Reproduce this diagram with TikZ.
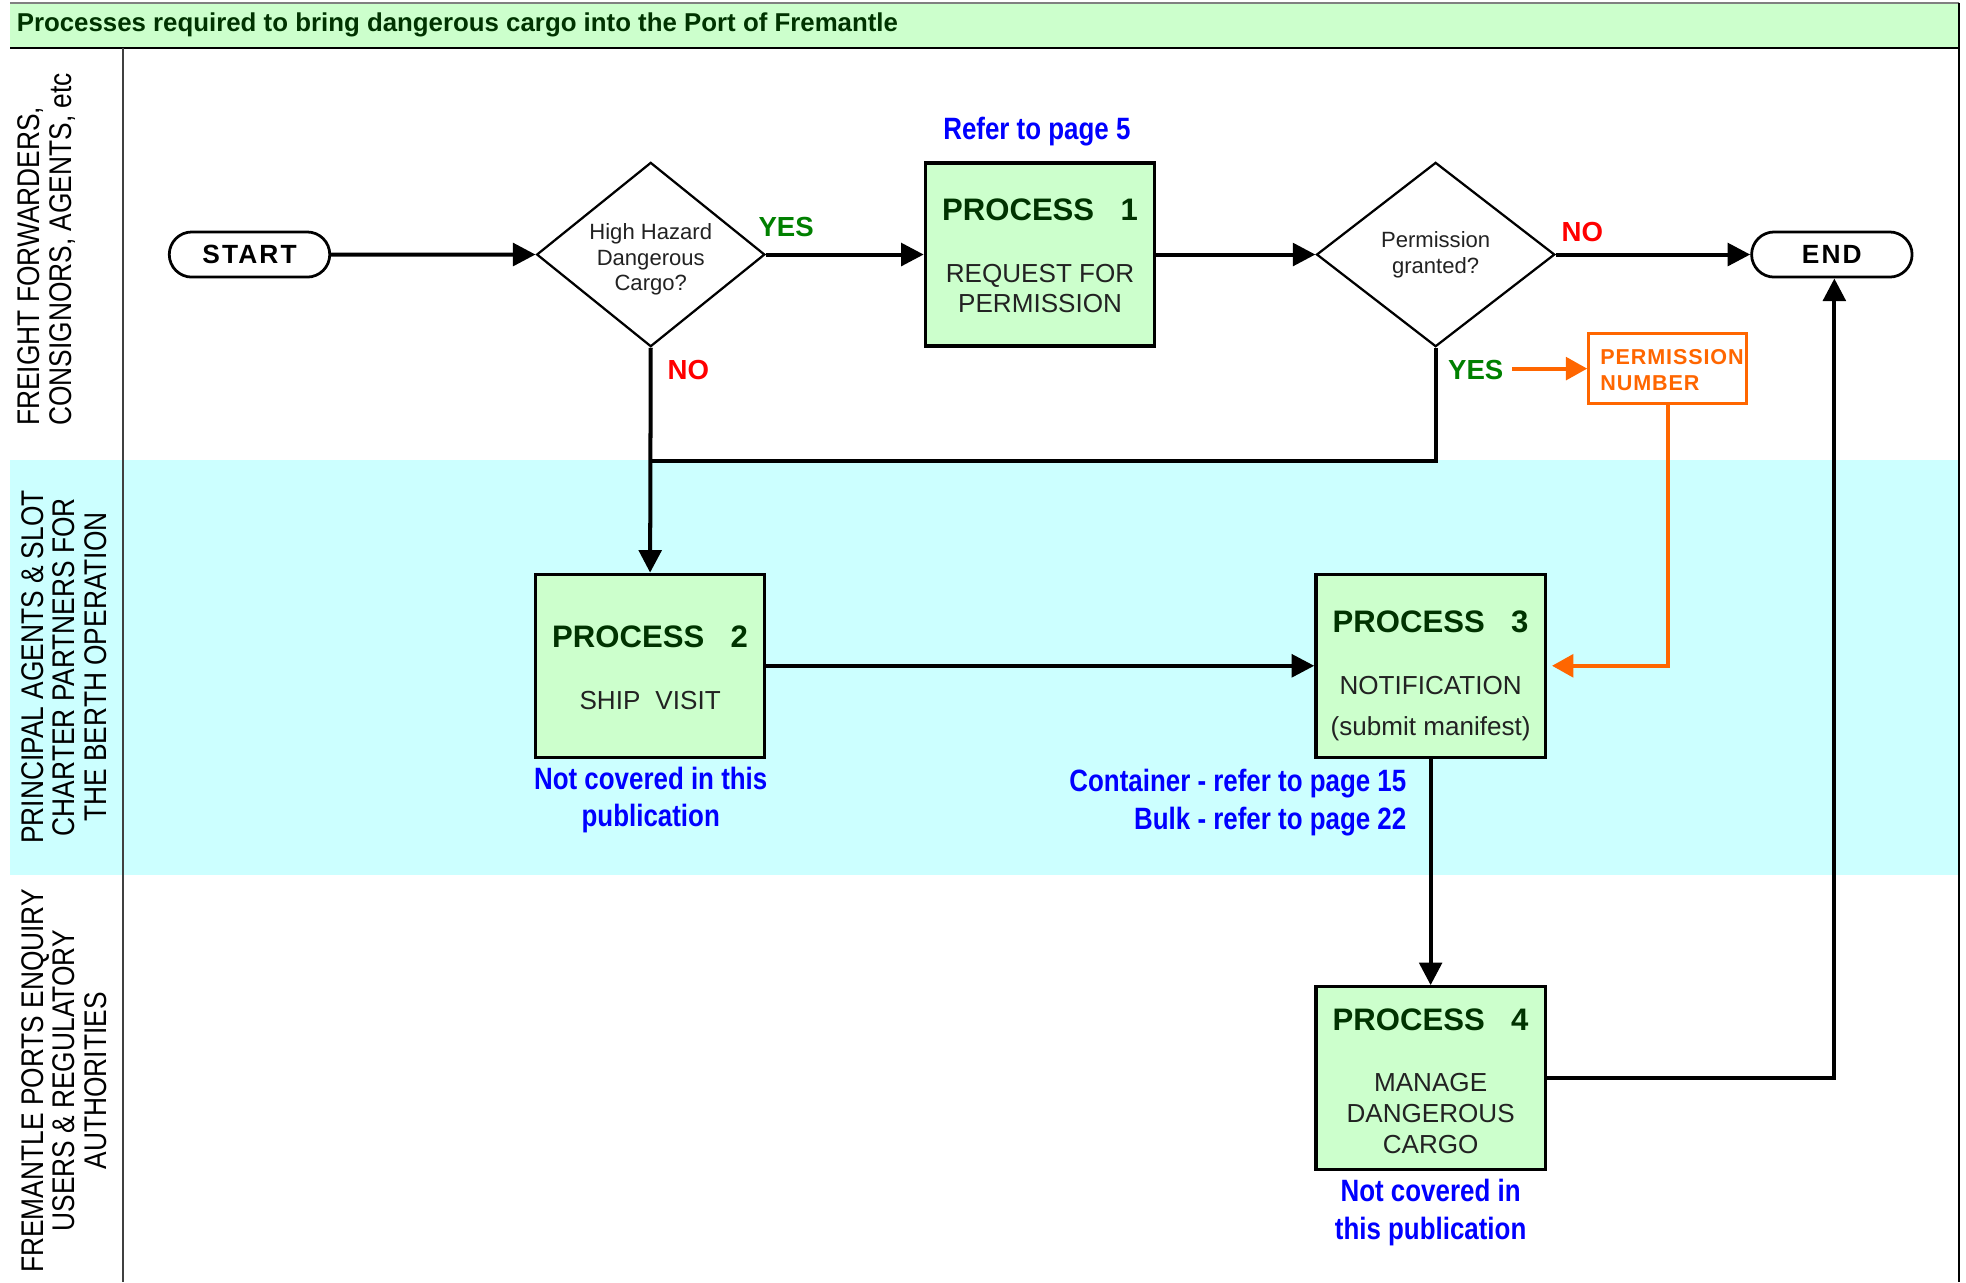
\documentclass[tikz,border=0pt]{standalone}
\usepackage{fontspec}
\setmainfont{Liberation Sans}
\newfontfamily\narrowfont[FakeStretch=0.84]{Liberation Sans}
\newfontfamily\spacedfont[LetterSpace=8]{Liberation Sans}
\newfontfamily\pnfont[LetterSpace=4]{Liberation Sans}
\usetikzlibrary{arrows.meta,shapes.geometric,shapes.misc}
\definecolor{boxgreen}{HTML}{CCFFCC}
\definecolor{lanecyan}{HTML}{CCFFFF}
\definecolor{darkgreen}{HTML}{003300}
\definecolor{yesgreen}{HTML}{008000}
\definecolor{orangec}{HTML}{FF6600}
\definecolor{bluec}{HTML}{0000FF}
\definecolor{textdark}{HTML}{222222}
\tikzset{
  procbox/.style={draw=black, line width=1.3pt, fill=boxgreen, minimum width=91.5pt, minimum height=73pt, inner sep=0pt},
  decbox/.style={draw=black, line width=0.9pt, fill=white, diamond, minimum width=91pt, minimum height=73.5pt, inner sep=0pt},
  termbox/.style={draw=black, line width=1.1pt, fill=white, rounded rectangle, minimum width=64pt, minimum height=18pt, inner sep=0pt},
  flow/.style={line width=1.6pt, -{Triangle[length=9pt,width=9pt]}},
  plainflow/.style={line width=1.6pt},
  oflow/.style={draw=orangec, line width=1.6pt, -{Triangle[length=8.5pt,width=9pt]}},
  ptitle/.style={font=\bfseries\fontsize{12.4}{14}\selectfont, text=darkgreen, inner sep=0pt},
  psub/.style={font=\fontsize{10.4}{12}\selectfont, text=textdark, align=center, inner sep=0pt},
  dtext/.style={font=\fontsize{8.8}{10.25}\selectfont, text=textdark, align=center, inner sep=0pt},
  bluenote/.style={font=\narrowfont\bfseries\fontsize{12.3}{15}\selectfont, text=bluec, inner sep=0pt},
  yeslab/.style={font=\bfseries\fontsize{11}{13}\selectfont, text=yesgreen, inner sep=0pt},
  nolab/.style={font=\bfseries\fontsize{11}{13}\selectfont, text=red, inner sep=0pt},
  lanelab/.style={font=\narrowfont\fontsize{12.5}{12.5}\selectfont, text=black, rotate=90, inner sep=0pt},
}
\begin{document}
\begin{tikzpicture}[x=0.5pt, y=-0.5pt]
\useasboundingbox (0,0) rectangle (1568,1022.5);
% lane band and frame
\fill[lanecyan] (8,367) rectangle (1562,698);
\fill[boxgreen] (8,2) rectangle (1562,38);
\draw[gray, line width=0.8pt] (8,2) -- (1562,2);
\draw[black, line width=0.8pt] (8,38) -- (1562,38);
\draw[black, line width=0.8pt] (1562,2) -- (1562,1022.5);
\draw[black!75, line width=0.7pt] (98,38) -- (98,1022.5);
\node[anchor=west, inner sep=0pt, font=\bfseries\fontsize{10.3}{12}\selectfont, text=darkgreen] (title) at (13,20) {Processes required to bring dangerous cargo into the Port of Fremantle};
% lane labels
\node[lanelab, anchor=west, align=left] (lane1) at (37,340) {FREIGHT FORWARDERS,\\CONSIGNORS, AGENTS, etc};
\node[lanelab, align=center] (lane2) at (51,532) {PRINCIPAL AGENTS \& SLOT\\CHARTER PARTNERS FOR\\THE BERTH OPERATION};
\node[lanelab, align=center] (lane3) at (51,862) {FREMANTLE PORTS ENQUIRY\\USERS \& REGULATORY\\AUTHORITIES};
% terminals
\node[termbox, font=\spacedfont\bfseries\fontsize{10.5}{12}\selectfont] (start) at (199,203) {START};
\node[termbox, font=\spacedfont\bfseries\fontsize{10.5}{12}\selectfont] (end) at (1461,203) {END};
% decisions
\node[decbox] (d1) at (519,203) {};
\node[dtext] (d1t) at (519,207) {High Hazard\\Dangerous\\Cargo?};
\node[decbox, minimum width=95pt] (d2) at (1145,203) {};
\node[dtext] (d2t) at (1145,203) {Permission\\granted?};
% processes
\node[procbox] (p1) at (829.5,203) {};
\node[ptitle] (p1a) at (829.5,167) {PROCESS\hspace{0.85em}1};
\node[psub] (p1b) at (829.5,230) {REQUEST FOR\\PERMISSION};
\node[procbox] (p2) at (518.5,531) {};
\node[ptitle] (p2a) at (518.5,508) {PROCESS\hspace{0.85em}2};
\node[psub] (p2b) at (518.5,559) {SHIP\hspace{0.3em} VISIT};
\node[procbox] (p3) at (1141,531) {};
\node[ptitle] (p3a) at (1141,496) {PROCESS\hspace{0.85em}3};
\node[psub] (p3b) at (1141,547) {NOTIFICATION};
\node[psub] (p3c) at (1141,581) {(submit manifest)};
\node[procbox] (p4) at (1141,860) {};
\node[ptitle] (p4a) at (1141,813) {PROCESS\hspace{0.85em}4};
\node[psub, font=\fontsize{10.4}{12.25}\selectfont] (p4b) at (1141,888) {MANAGE\\DANGEROUS\\CARGO};
% permission number
\node[draw=orangec, line width=1.1pt, fill=white, minimum width=63pt, minimum height=28pt, inner sep=0pt] (pn) at (1330,294) {};
\node[anchor=west, align=left, inner sep=0pt, text=orangec, font=\pnfont\bfseries\fontsize{8.6}{10.5}\selectfont] (pnt) at (1276,295) {PERMISSION\\NUMBER};
% notes
\node[bluenote] (n1) at (827,105) {Refer to page 5};
\node[bluenote, align=center] (n2) at (519,638) {Not covered in this\\publication};
\node[bluenote, align=right, anchor=east] (n3) at (1122,640) {Container - refer to page 15\\Bulk - refer to page 22};
\node[bluenote, align=center] (n4) at (1141,967) {Not covered in\\this publication};
% labels
\node[yeslab] (y1) at (627,181) {YES};
\node[nolab] (no1) at (549,295) {NO};
\node[nolab] (no2) at (1262,185) {NO};
\node[yeslab] (y2) at (1177,295) {YES};
% connectors
\coordinate (j) at (519,368);
\coordinate (ys) at (1206,294);
\draw[flow] (start) -- (d1.west);
\draw[flow] (d1.east) -- (p1.west);
\draw[flow] (p1.east) -- (d2.west);
\draw[flow] (d2.east) -- (end.west);
\draw[plainflow] (d2.south) |- (j);
\draw[flow] (d1.south) -- (p2.north);
\draw[flow] (p2.east) -- (p3.west);
\draw[flow] (p3.south) -- (p4.north);
\draw[flow] (p4.east) -| ([xshift=1pt]end.south);
\draw[oflow] (ys) -- (pn.west);
\draw[oflow] (pn.south) |- ([xshift=2pt]p3.east);
\end{tikzpicture}
\end{document}
